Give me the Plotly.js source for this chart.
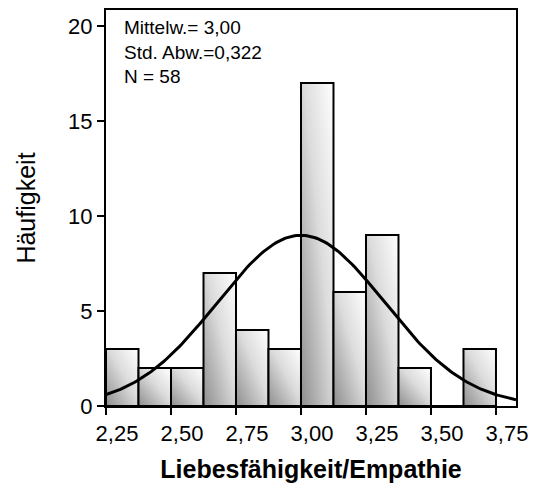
<!DOCTYPE html>
<html>
<head>
<meta charset="utf-8">
<script src="https://cdn.plot.ly/plotly-3.0.1.min.js"></script>
<style>html,body{margin:0;padding:0;background:#fff;}</style>
</head>
<body>
<div id="chart" style="width:535px;height:488px;"></div>
<script>
// Histogram bins (left edges) and counts
const binLeft = [2.25, 2.375, 2.5, 2.625, 2.75, 2.875, 3.0, 3.125, 3.25, 3.375, 3.5, 3.625];
const counts  = [3, 2, 2, 7, 4, 3, 17, 6, 9, 2, 0, 3];
const binWidth = 0.125;

// Statistics shown on chart
const meanVal = 3.00;
const sdVal = 0.322;
const nVal = 58;
const statLines = ["Mittelw.= 3,00", "Std. Abw.=0,322", "N = 58"];

// Axis ticks
const xTickVals = [2.25, 2.5, 2.75, 3.0, 3.25, 3.5, 3.75];
const xTickText = ["2,25", "2,50", "2,75", "3,00", "3,25", "3,50", "3,75"];
const yTickVals = [0, 5, 10, 15, 20];

const xRange = [2.25, 3.827];
const yRange = [0, 20.84];

// Fitted normal curve from the stated mean / sd / N
const curveX = [], curveY = [];
const steps = 200;
for (let i = 0; i <= steps; i++) {
  const x = xRange[0] + (xRange[1] - xRange[0]) * i / steps;
  const z = (x - meanVal) / sdVal;
  curveX.push(x);
  curveY.push(nVal * binWidth / (sdVal * Math.sqrt(2 * Math.PI)) * Math.exp(-0.5 * z * z));
}

const bars = {
  type: 'bar',
  x: binLeft,
  y: counts,
  width: binWidth,
  offset: 0,
  marker: {color: '#d0d0d0', line: {color: '#000', width: 2}},
  hoverinfo: 'skip'
};
const curve = {
  type: 'scatter',
  mode: 'lines',
  x: curveX,
  y: curveY,
  line: {color: '#000', width: 3},
  hoverinfo: 'skip'
};

const fontFam = 'Liberation Sans, Arial, sans-serif';
const layout = {
  width: 535, height: 488,
  margin: {l: 106, r: 19, t: 10, b: 82},
  paper_bgcolor: '#fff', plot_bgcolor: '#fff',
  showlegend: false,
  bargap: 0,
  font: {family: fontFam, color: '#000'},
  xaxis: {
    range: xRange,
    tickvals: xTickVals, ticktext: xTickText,
    ticks: 'outside', ticklen: 7, tickwidth: 2, tickcolor: '#000',
    ticklabelshift: 11,
    showline: true, linecolor: '#000', linewidth: 2, mirror: true,
    showgrid: false, zeroline: false,
    tickfont: {size: 22, family: fontFam, color: '#000'},
    title: {text: '<b>Liebesfähigkeit/Empathie</b>', font: {size: 25, family: fontFam, color: '#000'}, standoff: 15}
  },
  yaxis: {
    range: yRange,
    tickvals: yTickVals,
    ticks: 'outside', ticklen: 7, tickwidth: 2, tickcolor: '#000',
    showline: true, linecolor: '#000', linewidth: 2, mirror: true,
    showgrid: false, zeroline: false,
    tickfont: {size: 22, family: fontFam, color: '#000'},
    title: {text: 'Häufigkeit', font: {size: 25, family: fontFam, color: '#000'}, standoff: 25}
  },
  annotations: [{
    xref: 'paper', yref: 'paper',
    x: 0.04, y: 1, xanchor: 'left', yanchor: 'top', yshift: -5,
    align: 'left', showarrow: false,
    text: statLines.join('<br>'),
    font: {size: 19, family: fontFam, color: '#000'}
  }]
};

Plotly.newPlot('chart', [bars, curve], layout, {displayModeBar: false, staticPlot: true}).then(function (gd) {
  const svg = gd.querySelector('svg.main-svg');
  let defs = svg.querySelector('defs');
  const ns = 'http://www.w3.org/2000/svg';
  if (!defs) { defs = document.createElementNS(ns, 'defs'); svg.insertBefore(defs, svg.firstChild); }
  const grad = document.createElementNS(ns, 'linearGradient');
  grad.setAttribute('id', 'barGrad');
  grad.setAttribute('x1', '0'); grad.setAttribute('y1', '1');
  grad.setAttribute('x2', '1'); grad.setAttribute('y2', '0');
  [['0', '#8e8e8e'], ['0.55', '#dcdcdc'], ['1', '#ffffff']].forEach(function (s) {
    const st = document.createElementNS(ns, 'stop');
    st.setAttribute('offset', s[0]);
    st.setAttribute('stop-color', s[1]);
    grad.appendChild(st);
  });
  defs.appendChild(grad);
  gd.querySelectorAll('.barlayer .point path').forEach(function (p) {
    p.style.fill = 'url(#barGrad)';
  });
});
</script>
</body>
</html>
